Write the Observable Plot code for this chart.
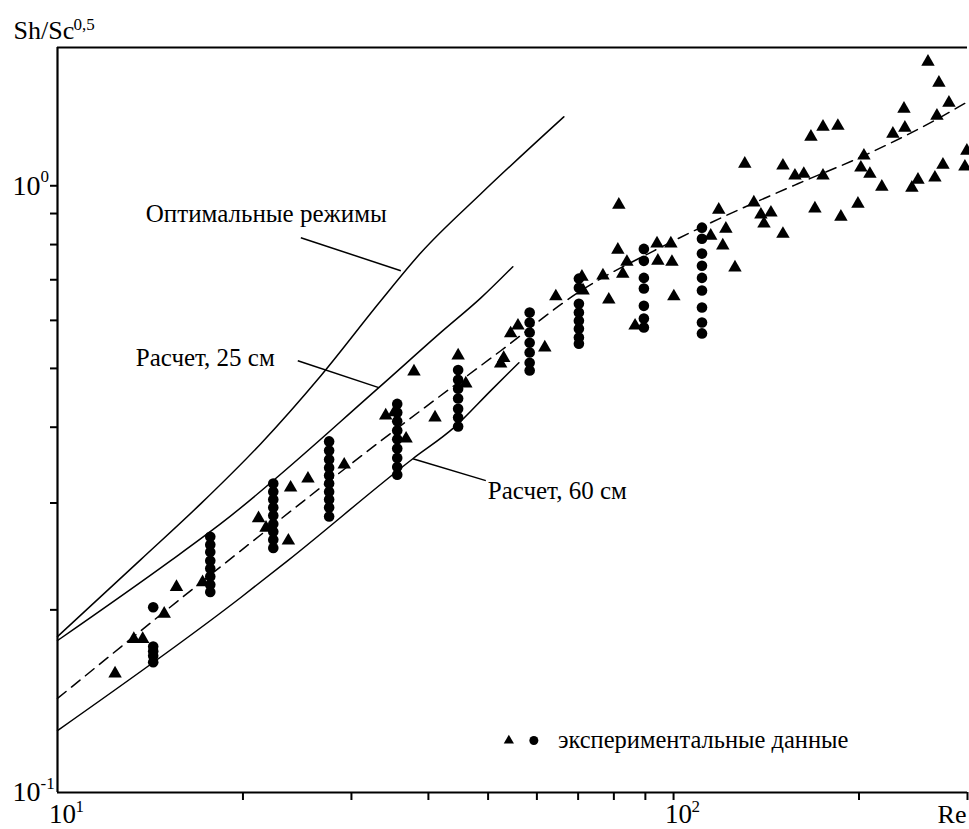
<!DOCTYPE html>
<html><head><meta charset="utf-8">
<script src="https://cdn.jsdelivr.net/npm/d3@7"></script>
<script src="https://cdn.jsdelivr.net/npm/@observablehq/plot@0.6"></script>
<style>
html,body{margin:0;padding:0;background:#fff;}
#chart{width:969px;height:829px;}
svg text{font-family:"Liberation Serif", "Times New Roman", Times, serif !important;}
</style></head><body><div id="chart"></div>
<script>
// ---- experimental data: circles (vertical columns at fixed Re) ----
const circleRe = [14.3, 17.7, 22.4, 27.6, 35.6, 44.7, 58.4, 70.2, 89.5, 111.2];
const circleSh = [
  [0.202, 0.174, 0.171, 0.168, 0.164],
  [0.264, 0.256, 0.249, 0.241, 0.234, 0.227, 0.220, 0.214],
  [0.323, 0.313, 0.304, 0.295, 0.286, 0.277, 0.269, 0.261, 0.253],
  [0.379, 0.366, 0.354, 0.343, 0.333, 0.323, 0.313, 0.304, 0.295, 0.285],
  [0.437, 0.423, 0.409, 0.395, 0.382, 0.369, 0.356, 0.344, 0.334],
  [0.497, 0.479, 0.463, 0.446, 0.429, 0.415, 0.401],
  [0.618, 0.595, 0.573, 0.551, 0.531, 0.511, 0.496],
  [0.703, 0.679, 0.639, 0.618, 0.599, 0.581, 0.562, 0.549],
  [0.787, 0.752, 0.705, 0.677, 0.634, 0.604, 0.584],
  [0.853, 0.818, 0.773, 0.738, 0.705, 0.672, 0.630, 0.595, 0.571]
];
// ---- experimental data: triangles ----
const triRe = [12.4, 13.3, 13.75, 14.9, 15.6, 17.2, 21.2, 21.8, 23.7, 23.9,
  25.5, 29.2, 34.1, 35.2, 36.8, 37.9, 41.0, 44.7, 46.0, 52.4,
  53.0, 54.4, 55.9, 61.8, 64.4, 71.0, 71.3, 76.8, 78.5, 81.2,
  81.5, 82.7, 84.0, 86.6, 94.0, 94.3, 99.0, 99.4, 100.1, 114.9,
  118.4, 120.2, 121.6, 125.8, 130.5, 135.0, 138.6, 140.2, 143.9, 150.5,
  150.5, 157.4, 162.7, 167.1, 169.6, 174.8, 174.8, 184.8, 186.9, 199.2,
  201.4, 203.7, 208.3, 217.8, 227.0, 236.6, 237.4, 243.7, 249.3, 258.8,
  265.6, 267.6, 269.6, 273.7, 279.9, 297.1, 299.3];
const triSh = [0.157, 0.179, 0.179, 0.197, 0.218, 0.222, 0.283, 0.273, 0.260, 0.318,
  0.329, 0.347, 0.418, 0.423, 0.383, 0.494, 0.415, 0.525, 0.472, 0.509,
  0.520, 0.571, 0.588, 0.541, 0.657, 0.708, 0.672, 0.711, 0.649, 0.784,
  0.930, 0.716, 0.749, 0.588, 0.803, 0.752, 0.803, 0.749, 0.657, 0.827,
  0.913, 0.797, 0.849, 0.733, 1.087, 0.938, 0.896, 0.866, 0.903, 1.079,
  0.833, 1.039, 1.046, 1.204, 0.917, 1.251, 1.039, 1.255, 0.889, 0.934,
  1.071, 1.121, 1.046, 0.996, 1.218, 1.339, 1.246, 0.992, 1.023, 1.601,
  1.031, 1.304, 1.478, 1.083, 1.370, 1.075, 1.142];
// ---- curves ----
const optRe = [10, 13.65, 17.09, 21.38, 26.76, 33.48, 38.89, 48.67, 66.36];
const optSh = [0.1807, 0.2420, 0.2993, 0.3758, 0.4864, 0.6465, 0.7755, 0.9701, 1.299];
const calc25Re = [10, 15.27, 18.41, 33.23, 42.22, 48.67, 54.84];
const calc25Sh = [0.1780, 0.2411, 0.2774, 0.4648, 0.5770, 0.6535, 0.7356];
const calc60Re = [10, 19.84, 23.65, 37.74, 44.0, 50.51, 56.1];
const calc60Sh = [0.1265, 0.2096, 0.2411, 0.3549, 0.3993, 0.4596, 0.5110];
const fitRe = [10, 18.76, 36.08, 52.43, 70.72, 92.90, 114.9, 159.1, 203.7, 264.8, 300];
const fitSh = [0.1429, 0.2393, 0.4024, 0.5347, 0.6715, 0.7813, 0.8690, 1.0076, 1.121, 1.280, 1.375];
// ---- annotations ----
const labelText = ["Оптимальные режимы", "Расчет, 25 см", "Расчет, 60 см"];
const labelRe = [13.91, 13.40, 49.95];
const labelSh = [0.899, 0.5205, 0.3144];
const leaderRe1 = [24.83, 24.55, 37.74];
const leaderSh1 = [0.821, 0.5147, 0.3549];
const leaderRe2 = [36.08, 33.23, 49.58];
const leaderSh2 = [0.7244, 0.4648, 0.3266];
const legendText = "экспериментальные данные";
const legendRe = [54.03, 59.32, 64.9];
const legendSh = 0.1218;
// ---- axes ----
const xTicks = [20, 30, 40, 50, 60, 70, 80, 90, 100, 200, 300];
const yTicks = [0.2, 0.3, 0.4, 0.5, 0.6, 0.7, 0.8, 0.9, 1];
const xLabelVals = [10, 100];
const xLabelExp = ["1", "2"];
const yLabelVals = [1, 0.1];
const yLabelExp = ["0", "-1"];
const xTitle = "Re";
const yTitle = "Sh/Sc";
const yTitleExp = "0,5";

const circles = circleRe.flatMap((x, i) => circleSh[i].map(y => ({x, y})));
const tris = triRe.map((x, i) => ({x, y: triSh[i]}));
const toPts = (xs, ys) => xs.map((x, i) => ({x, y: ys[i]}));
const curves = [
  ...toPts(optRe, optSh).map(d => ({...d, k: "opt"})),
  ...toPts(calc25Re, calc25Sh).map(d => ({...d, k: "c25"})),
  ...toPts(calc60Re, calc60Sh).map(d => ({...d, k: "c60"}))
];
const fit = toPts(fitRe, fitSh);
const labels = labelText.map((t, i) => ({t, x: labelRe[i], y: labelSh[i]}));
const leaders = leaderRe1.map((x1, i) => ({x1, y1: leaderSh1[i], x2: leaderRe2[i], y2: leaderSh2[i]}));

const FF = "Liberation Serif";
const FS = 28, FSX = 27, FSUP = 17;
const chart = Plot.plot({
  width: 969, height: 829,
  marginLeft: 57, marginRight: 2, marginTop: 47, marginBottom: 37,
  style: {fontFamily: FF, background: "#fff", color: "#000", overflow: "visible"},
  x: {type: "log", domain: [10, 300]},
  y: {type: "log", domain: [0.1, 1.69]},
  marks: [
    Plot.axisX({ticks: xTicks, tickSize: 8, tickFormat: () => "", label: null, strokeWidth: 2}),
    Plot.axisY({ticks: yTicks, tickSize: 7, tickFormat: () => "", label: null, strokeWidth: 2}),
    Plot.ruleX([10], {strokeWidth: 2.2}),
    Plot.ruleY([0.1, 1.69], {strokeWidth: 2.2}),
    Plot.line(curves, {x: "x", y: "y", z: "k", stroke: "#000", strokeWidth: 1.5, curve: "monotone-x"}),
    Plot.line(fit, {x: "x", y: "y", stroke: "#000", strokeWidth: 1.5, strokeDasharray: "11,7", curve: "monotone-x"}),
    Plot.link(leaders, {x1: "x1", y1: "y1", x2: "x2", y2: "y2", stroke: "#000", strokeWidth: 1.5}),
    Plot.text(labels, {x: "x", y: "y", text: "t", textAnchor: "start", fontSize: 25, fontFamily: FF}),
    Plot.dot(circles, {x: "x", y: "y", r: 5.3, fill: "#000", stroke: "none"}),
    Plot.dot(tris, {x: "x", y: "y", r: 5, symbol: "triangle", fill: "#000", stroke: "none"}),
    // legend
    Plot.dot([legendRe[0]], {x: d => d, y: () => legendSh, r: 3.8, symbol: "triangle", fill: "#000", stroke: "none"}),
    Plot.dot([legendRe[1]], {x: d => d, y: () => legendSh, r: 4.5, fill: "#000", stroke: "none"}),
    Plot.text([legendText], {x: () => legendRe[2], y: () => legendSh, text: d => d, textAnchor: "start", fontSize: 24.5, fontFamily: FF}),
    // tick labels
    Plot.text(xLabelVals, {x: d => d, frameAnchor: "bottom", lineAnchor: "middle", text: () => "10", dx: 5, dy: 22, fontSize: FSX, fontFamily: FF}),
    Plot.text(xLabelVals, {x: d => d, frameAnchor: "bottom", lineAnchor: "middle", text: (d, i) => xLabelExp[i], dx: 18, dy: 14, textAnchor: "start", fontSize: FSUP, fontFamily: FF}),
    Plot.text(yLabelVals, {y: d => d, frameAnchor: "left", lineAnchor: "middle", text: () => "10", dx: -17, textAnchor: "end", fontSize: FS, fontFamily: FF}),
    Plot.text(yLabelVals, {y: d => d, frameAnchor: "left", lineAnchor: "middle", text: (d, i) => yLabelExp[i], dx: -17, dy: -9, textAnchor: "start", fontSize: FSUP, fontFamily: FF}),
    Plot.text([xTitle], {frameAnchor: "bottom-right", lineAnchor: "middle", text: d => d, dx: -1, dy: 22, textAnchor: "end", fontSize: 26, fontFamily: FF}),
    Plot.text([yTitle], {frameAnchor: "top-left", lineAnchor: "middle", text: d => d, dx: -44, dy: -17, textAnchor: "start", fontSize: 26, fontFamily: FF}),
    Plot.text([yTitleExp], {frameAnchor: "top-left", lineAnchor: "middle", text: d => d, dx: 16, dy: -23, textAnchor: "start", fontSize: FSUP, fontFamily: FF})
  ]
});
document.getElementById("chart").appendChild(chart);
</script></body></html>
